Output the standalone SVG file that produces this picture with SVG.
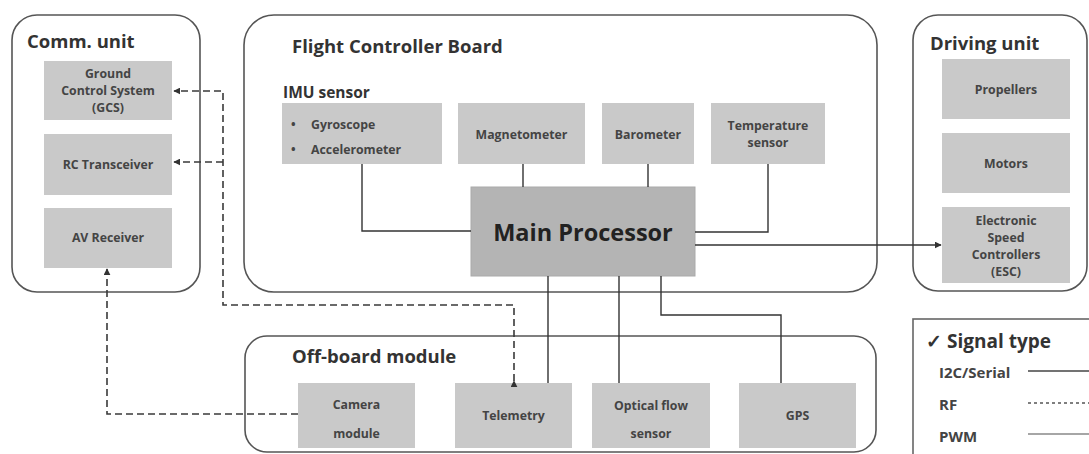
<svg xmlns="http://www.w3.org/2000/svg" width="1089" height="454" viewBox="0 0 1089 454">
<style>
.cont{fill:#fff;stroke:#555;stroke-width:1.6}
.box{fill:#c9c9c9}
.title{font-family:"Open Sans","Liberation Sans",sans-serif;font-weight:700;font-size:18.5px;fill:#333}
.lbl{font-family:"Open Sans","Liberation Sans",sans-serif;font-weight:700;font-size:12.3px;fill:#444;text-anchor:middle}
.lbll{font-family:"Open Sans","Liberation Sans",sans-serif;font-weight:700;font-size:12.3px;fill:#444}
.main{font-family:"Open Sans","Liberation Sans",sans-serif;font-weight:700;font-size:23.5px;fill:#222;text-anchor:middle}
.sol{fill:none;stroke:#333;stroke-width:1.4}
.dash{fill:none;stroke:#3a3a3a;stroke-width:1.6;stroke-dasharray:7 4}
.leg{font-family:"Open Sans","Liberation Sans",sans-serif;font-weight:700;font-size:15px;fill:#444}
</style>
<defs>
<marker id="ah" viewBox="0 0 10 10" refX="9" refY="5" markerWidth="7" markerHeight="7" orient="auto" markerUnits="userSpaceOnUse">
<path d="M0,0 L10,5 L0,10 z" fill="#333"/>
</marker>
</defs>
<rect width="1089" height="454" fill="#fff"/>

<g id="comm-unit">
<rect class="cont" x="12" y="15" width="188" height="277" rx="25"/>
<text class="title" x="27" y="48">Comm. unit</text>
</g>
<g id="gcs">
<rect class="box" x="44" y="61" width="128" height="59"/>
<text class="lbl" x="108" y="78">Ground</text>
<text class="lbl" x="108" y="95">Control System</text>
<text class="lbl" x="108" y="112">(GCS)</text>
</g>
<g id="rc">
<rect class="box" x="44" y="134" width="128" height="61"/>
<text class="lbl" x="108" y="169">RC Transceiver</text>
</g>
<g id="av">
<rect class="box" x="44" y="208" width="128" height="60"/>
<text class="lbl" x="108" y="242">AV Receiver</text>
</g>

<g id="fcb">
<rect class="cont" x="244" y="15" width="633" height="277" rx="30"/>
<text class="title" x="292" y="53">Flight Controller Board</text>
<text class="title" x="283" y="98" style="font-size:15.5px">IMU sensor</text>
</g>
<g id="imu">
<rect class="box" x="282" y="103" width="160" height="61"/>
<text class="lbll" x="291" y="129">•</text>
<text class="lbll" x="311" y="129">Gyroscope</text>
<text class="lbll" x="291" y="154">•</text>
<text class="lbll" x="311" y="154">Accelerometer</text>
</g>
<g id="magnetometer">
<rect class="box" x="458" y="103" width="127" height="61"/>
<text class="lbl" x="521.5" y="139">Magnetometer</text>
</g>
<g id="barometer">
<rect class="box" x="602" y="103" width="92" height="61"/>
<text class="lbl" x="648" y="139">Barometer</text>
</g>
<g id="temperature">
<rect class="box" x="711" y="103" width="114" height="61"/>
<text class="lbl" x="768" y="130">Temperature</text>
<text class="lbl" x="768" y="147">sensor</text>
</g>
<g id="main-processor">
<rect x="471" y="187" width="224" height="89" fill="#b4b4b4" stroke="#aaa" stroke-width="1"/>
<text class="main" x="583" y="241">Main Processor</text>
</g>

<g id="driving-unit">
<rect class="cont" x="913" y="15" width="174" height="276" rx="25"/>
<text class="title" x="930" y="50">Driving unit</text>
</g>
<g id="propellers">
<rect class="box" x="942" y="59" width="128" height="60"/>
<text class="lbl" x="1006" y="94">Propellers</text>
</g>
<g id="motors">
<rect class="box" x="942" y="133" width="128" height="60"/>
<text class="lbl" x="1006" y="168">Motors</text>
</g>
<g id="esc">
<rect class="box" x="942" y="207" width="128" height="76"/>
<text class="lbl" x="1006" y="225">Electronic</text>
<text class="lbl" x="1006" y="242">Speed</text>
<text class="lbl" x="1006" y="259">Controllers</text>
<text class="lbl" x="1006" y="276">(ESC)</text>
</g>

<g id="offboard">
<rect class="cont" x="245" y="336" width="631" height="116" rx="22"/>
<text class="title" x="292" y="363">Off-board module</text>
</g>
<g id="camera">
<rect class="box" x="298" y="383" width="117" height="65"/>
<text class="lbl" x="356.5" y="409">Camera</text>
<text class="lbl" x="356.5" y="438">module</text>
</g>
<g id="telemetry">
<rect class="box" x="455" y="383" width="117" height="65"/>
<text class="lbl" x="513.5" y="420">Telemetry</text>
</g>
<g id="optical-flow">
<rect class="box" x="592" y="383" width="118" height="65"/>
<text class="lbl" x="651" y="410">Optical flow</text>
<text class="lbl" x="651" y="438">sensor</text>
</g>
<g id="gps">
<rect class="box" x="739" y="383" width="117" height="65"/>
<text class="lbl" x="797.5" y="420">GPS</text>
</g>

<g id="legend">
<rect x="913" y="319" width="190" height="150" fill="#fff" stroke="#666" stroke-width="1.6"/>
<text class="title" x="926" y="348" style="font-size:19px">✓ Signal type</text>
<text class="leg" x="939" y="378">I2C/Serial</text>
<text class="leg" x="939" y="410">RF</text>
<text class="leg" x="939" y="442">PWM</text>
<line x1="1028" y1="371" x2="1089" y2="371" stroke="#444" stroke-width="1.3"/>
<line x1="1028" y1="403" x2="1089" y2="403" stroke="#555" stroke-width="1.3" stroke-dasharray="3 3"/>
<line x1="1028" y1="434" x2="1089" y2="434" stroke="#888" stroke-width="1.3"/>
</g>

<g id="connectors">
<path class="sol" d="M362,164 V231 H471"/>
<path class="sol" d="M523,164 V187"/>
<path class="sol" d="M648,164 V187"/>
<path class="sol" d="M768,164 V232 H695"/>
<path class="sol" d="M695,245 H941" marker-end="url(#ah)"/>
<path class="sol" d="M548,276 V383"/>
<path class="sol" d="M619,276 V383"/>
<path class="sol" d="M661,276 V315 H781 V383"/>
<path class="dash" d="M514,381 V305 H223 V91 H174" marker-start="url(#ah)" marker-end="url(#ah)"/>
<path class="dash" d="M223,162 H174" marker-end="url(#ah)"/>
<path class="dash" d="M298,414 H107 V269" marker-end="url(#ah)"/>
</g>
</svg>
